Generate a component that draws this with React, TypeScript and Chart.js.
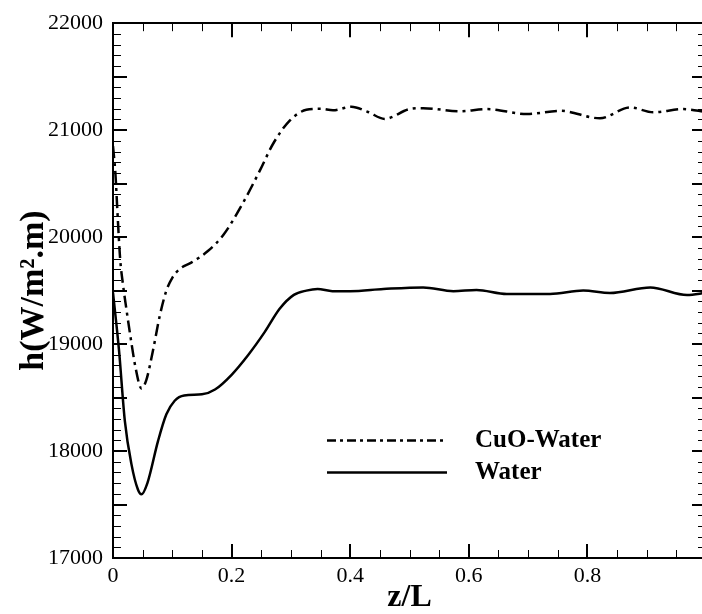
import React, { useEffect, useRef } from "react";
import { Chart, registerables } from "chart.js";

Chart.register(...registerables);

// ---- Data ----
const zWater = [0, 0.01, 0.02, 0.031, 0.042, 0.048, 0.058, 0.076, 0.09, 0.104, 0.12, 0.15, 0.172, 0.2, 0.228, 0.256, 0.281, 0.305, 0.326, 0.345, 0.37, 0.4, 0.456, 0.523, 0.574, 0.613, 0.664, 0.737, 0.793, 0.838, 0.906, 0.968, 1.0];
const hWater = [19480, 18950, 18280, 17880, 17640, 17595, 17700, 18095, 18343, 18470, 18520, 18530, 18575, 18713, 18898, 19114, 19330, 19460, 19500, 19515, 19495, 19495, 19515, 19530, 19494, 19506, 19469, 19469, 19500, 19478, 19530, 19459, 19480];

const zCuO = [0, 0.004, 0.008, 0.012, 0.017, 0.022, 0.03, 0.038, 0.048, 0.056, 0.067, 0.079, 0.09, 0.1, 0.112, 0.132, 0.16, 0.186, 0.219, 0.248, 0.27, 0.298, 0.326, 0.35, 0.371, 0.402, 0.43, 0.458, 0.5, 0.523, 0.585, 0.63, 0.698, 0.754, 0.821, 0.872, 0.911, 0.962, 1.0];
const hCuO = [20850, 20600, 20180, 19800, 19550, 19350, 19050, 18780, 18585, 18660, 18929, 19268, 19500, 19620, 19700, 19762, 19870, 20020, 20318, 20626, 20873, 21089, 21190, 21200, 21185, 21219, 21170, 21105, 21197, 21206, 21176, 21197, 21151, 21181, 21111, 21213, 21167, 21197, 21170];

const seriesLabels = ["CuO-Water", "Water"];
const xTitle = "z/L";
const yTitle = "h(W/m\u00B2.m)";
const xMin = 0, xMax = 1, xStep = 0.2, xMinorStep = 0.05;
const yMin = 17000, yMax = 22000, yStep = 1000, yMajorTickStep = 500, yMinorStep = 100;

const FONT = "'Liberation Serif', 'Times New Roman', serif";
const CUO_DASH = [12, 5, 3, 5];
const LEGEND_DASH = [9, 4, 3, 4];

const CANVAS_W = 730;
const CANVAS_H = 614;

const framePlugin = {
  id: "frameTicks",
  afterDatasetsDraw(chart: any) {
    const { ctx, chartArea: a, scales } = chart;
    const xs = scales.x;
    const ys = scales.y;
    ctx.save();
    ctx.strokeStyle = "#000";
    const nx = Math.round((xMax - xMin) / xMinorStep);
    const perMajorX = Math.round(xStep / xMinorStep);
    for (let i = 0; i <= nx; i++) {
      const v = xMin + i * xMinorStep;
      const major = i % perMajorX === 0;
      const len = major ? 14 : 8;
      ctx.lineWidth = major ? 2 : 1;
      const px = major ? Math.round(xs.getPixelForValue(v)) : Math.round(xs.getPixelForValue(v)) + 0.5;
      ctx.beginPath();
      ctx.moveTo(px, a.bottom);
      ctx.lineTo(px, a.bottom - len);
      ctx.moveTo(px, a.top);
      ctx.lineTo(px, a.top + len);
      ctx.stroke();
    }
    const ny = Math.round((yMax - yMin) / yMinorStep);
    const perMajorY = Math.round(yMajorTickStep / yMinorStep);
    for (let i = 0; i <= ny; i++) {
      const v = yMin + i * yMinorStep;
      const major = i % perMajorY === 0;
      const len = major ? 14 : 8;
      ctx.lineWidth = major ? 2 : 1;
      const py = major ? Math.round(ys.getPixelForValue(v)) : Math.round(ys.getPixelForValue(v)) + 0.5;
      ctx.beginPath();
      ctx.moveTo(a.left, py);
      ctx.lineTo(a.left + len, py);
      ctx.moveTo(a.right, py);
      ctx.lineTo(a.right - len, py);
      ctx.stroke();
    }
    ctx.lineWidth = 2;
    ctx.strokeRect(Math.round(a.left), Math.round(a.top), Math.round(a.right - a.left), Math.round(a.bottom - a.top));
    ctx.restore();
  },
  afterDraw(chart: any) {
    const { ctx } = chart;
    const ds = chart.data.datasets;
    const x0 = 327, x1 = 447, tx = 475;
    const rows = [440, 472];
    ctx.save();
    ctx.font = `bold 25px ${FONT}`;
    ctx.fillStyle = "#000";
    ctx.textBaseline = "middle";
    ctx.textAlign = "left";
    ds.forEach((d: any, i: number) => {
      const y = rows[i] + 0.5;
      ctx.strokeStyle = "#000";
      ctx.lineWidth = 2.5;
      ctx.setLineDash(d.borderDash && d.borderDash.length ? LEGEND_DASH : []);
      ctx.beginPath();
      ctx.moveTo(x0, y);
      ctx.lineTo(x1, y);
      ctx.stroke();
      ctx.setLineDash([]);
      ctx.fillText(d.label, tx, rows[i] + 1);
    });
    ctx.restore();
  },
};

export default function App() {
  const ref = useRef<HTMLCanvasElement | null>(null);

  useEffect(() => {
    if (!ref.current) return;
    const chart = new Chart(ref.current, {
      type: "line",
      data: {
        datasets: [
          {
            label: seriesLabels[0],
            data: zCuO.map((z, i) => ({ x: z, y: hCuO[i] })),
            borderColor: "#000",
            borderWidth: 2.5,
            borderDash: CUO_DASH,
            pointRadius: 0,
            fill: false,
            cubicInterpolationMode: "monotone",
          },
          {
            label: seriesLabels[1],
            data: zWater.map((z, i) => ({ x: z, y: hWater[i] })),
            borderColor: "#000",
            borderWidth: 2.5,
            pointRadius: 0,
            fill: false,
            cubicInterpolationMode: "monotone",
          },
        ],
      },
      options: {
        responsive: false,
        animation: false,
        layout: { padding: { left: 0, top: 18, right: CANVAS_W - 706, bottom: 0 } },
        plugins: { legend: { display: false }, tooltip: { enabled: false } },
        scales: {
          x: {
            type: "linear",
            min: xMin,
            max: xMax,
            grid: { display: false, drawTicks: false },
            border: { display: false },
            ticks: {
              stepSize: xStep,
              padding: 5,
              color: "#000",
              maxRotation: 0,
              font: { family: FONT, size: 22 },
              callback: (v: any) => String(Number(Number(v).toFixed(2))),
            },
            title: {
              display: true,
              text: xTitle,
              color: "#000",
              font: { family: FONT, size: 32, weight: "bold", lineHeight: 1 },
              padding: { top: 0, bottom: 0 },
            },
            afterFit: (s: any) => {
              s.height = 56;
            },
          },
          y: {
            type: "linear",
            min: yMin,
            max: yMax,
            grid: { display: false, drawTicks: false },
            border: { display: false },
            ticks: {
              stepSize: yStep,
              padding: 10,
              color: "#000",
              font: { family: FONT, size: 22 },
              callback: (v: any) => String(v),
            },
            title: {
              display: true,
              text: yTitle,
              color: "#000",
              font: { family: FONT, size: 34, weight: "bold", lineHeight: 1 },
              padding: { top: 17, bottom: 0 },
            },
            afterFit: (s: any) => {
              s.width = 113;
            },
          },
        },
      } as any,
      plugins: [framePlugin],
    });
    return () => chart.destroy();
  }, []);

  return (
    <div
      style={{
        position: "fixed",
        left: 0,
        top: 0,
        width: 702,
        height: 614,
        overflow: "hidden",
        background: "#fff",
      }}
    >
      <canvas ref={ref} width={CANVAS_W} height={CANVAS_H} style={{ display: "block" }} />
    </div>
  );
}
